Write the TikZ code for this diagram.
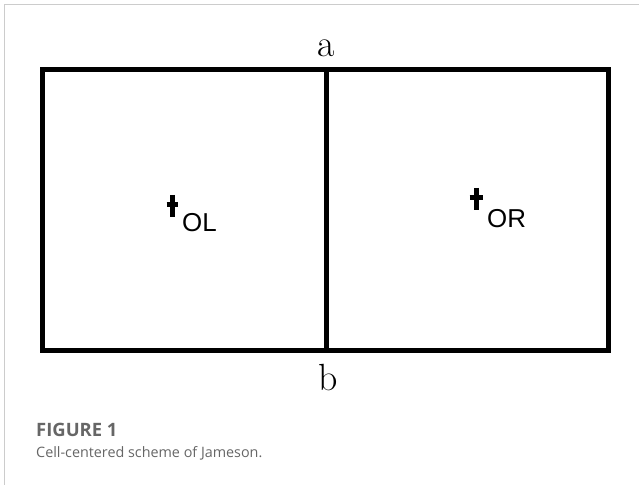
\documentclass[tikz,border=0pt]{standalone}
\usepackage{fontspec}
\usetikzlibrary{calc}
\newfontfamily\capfont{Open Sans}
\newfontfamily\labfont{Liberation Sans}
\definecolor{framegray}{HTML}{CCCCCC}
\definecolor{capgray}{HTML}{666666}
\begin{document}
\begin{tikzpicture}[x=1bp, y=-1bp,
  cell/.style    = {draw=black, line width=5bp, line join=miter},
  cross/.style   = {draw=black, line width=5bp},
  lab/.style     = {anchor=base, inner sep=0pt, font=\fontsize{38}{40}\selectfont},
  sub/.style     = {anchor=base west, inner sep=0pt, font=\labfont\fontsize{26}{28}\selectfont},
  captext/.style = {anchor=base west, inner sep=0pt, text=capgray}]
\useasboundingbox (0,0) rectangle (639,485);

% --- frame ------------------------------------------------------------
\draw[framegray, line width=1.2bp] (4.3,485) -- (4.3,4.3) -- (639,4.3);

% --- cells ------------------------------------------------------------
\coordinate (nw) at (42.5,69.5);
\coordinate (se) at (608.5,350.5);
\coordinate (a0) at (326.5,69.5);
\coordinate (b0) at (326.5,350.5);
\draw[cell] (nw) rectangle (se);
\draw[cell] (a0) -- (b0);

% --- centres ----------------------------------------------------------
\coordinate (OL) at (172,195);
\coordinate (OR) at (476,188);
\draw[cross] (OL) -- ++(0,22);  \draw[cross] ($(OL)+(-5.5,10)$) -- ++(11,0);
\draw[cross] (OR) -- ++(0,22);  \draw[cross] ($(OR)+(-6.5,9.5)$) -- ++(13,0);
\node[sub] (tOL) at (182,232) {OL};
\node[sub] (tOR) at (487,228) {OR};

% --- edge labels ------------------------------------------------------
\node[lab] (la) at (326.5,57)  {a};
\node[lab] (lb) at (328,390) {b};

% --- caption ----------------------------------------------------------
\node[captext, font=\capfont\bfseries\fontsize{18.5}{20}\selectfont] (fig) at (36,436) {FIGURE 1};
\node[captext, font=\capfont\fontsize{14.4}{18}\selectfont] (txt) at (36,457) {Cell-centered scheme of Jameson.};
\end{tikzpicture}
\end{document}
